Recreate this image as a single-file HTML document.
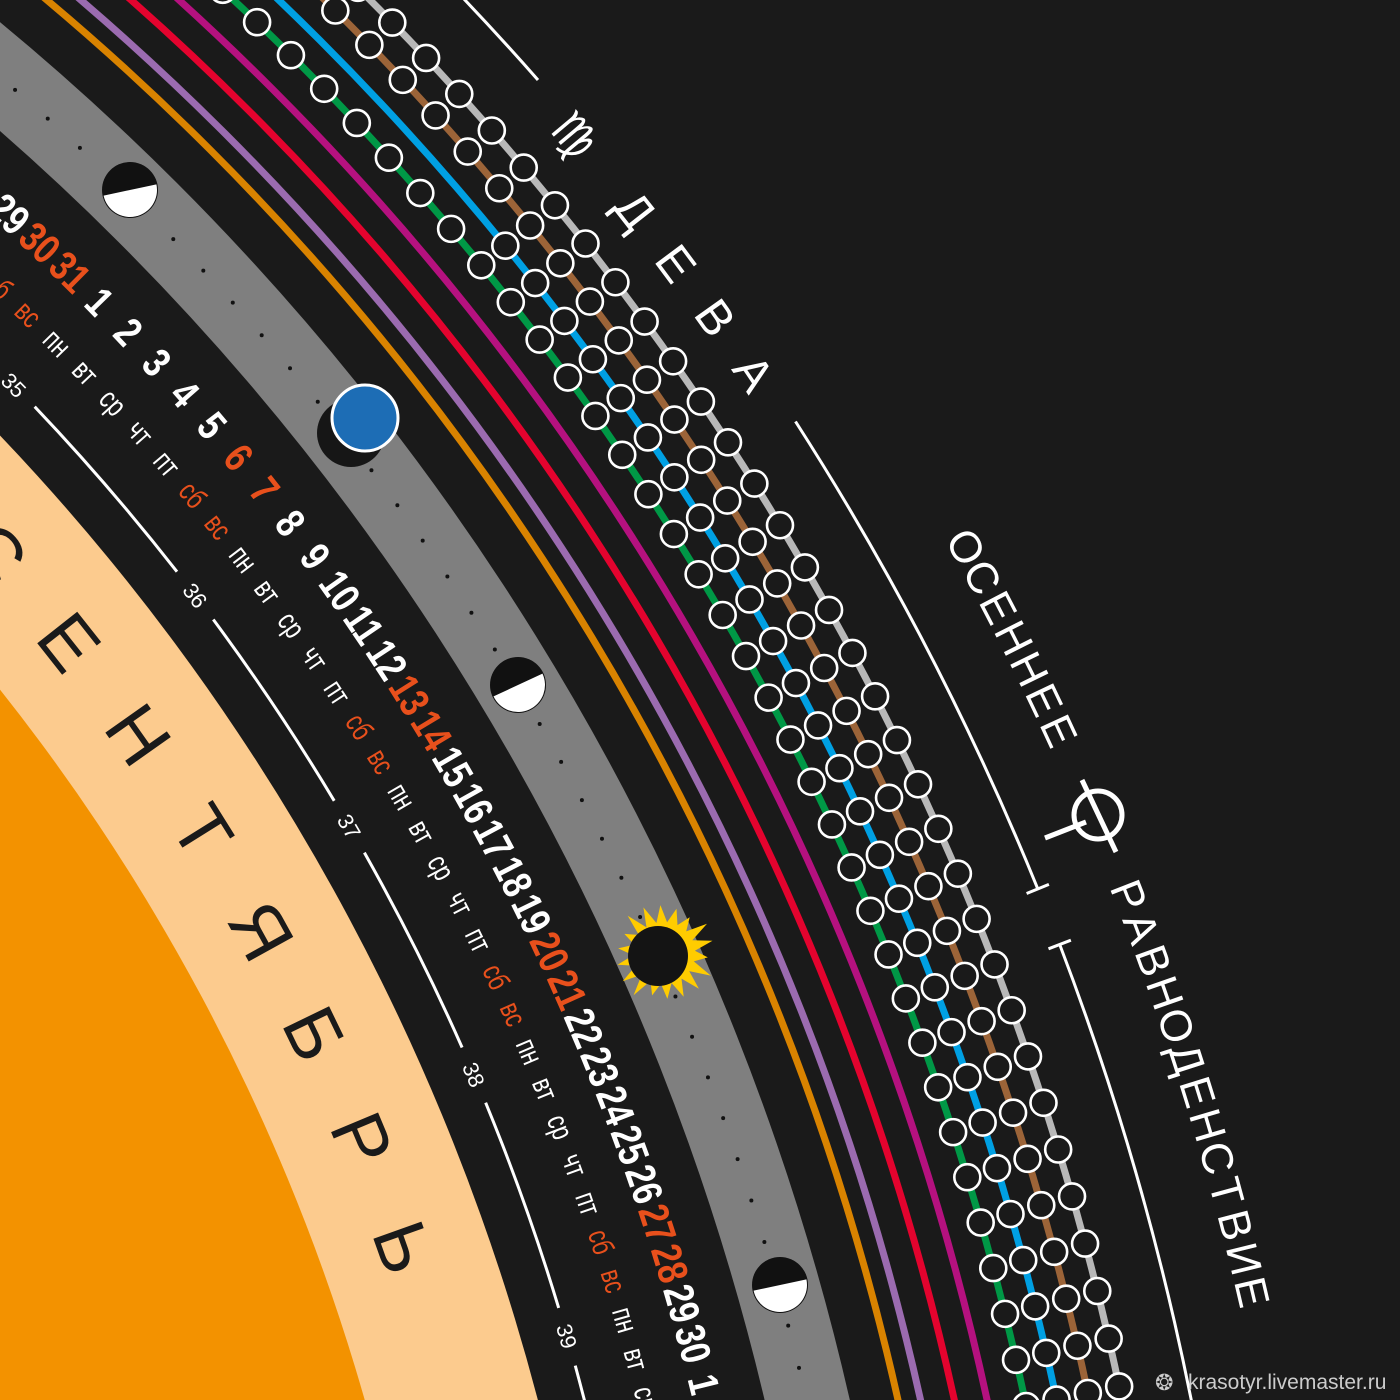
<!DOCTYPE html>
<html><head><meta charset="utf-8"><style>
html,body{margin:0;padding:0;background:#1a1a1a;width:1400px;height:1400px;overflow:hidden;}
svg{display:block;}
.n{font-family:"Liberation Sans",sans-serif;font-weight:bold;font-size:42px;fill:#fff;text-anchor:middle;}
.w{font-family:"Liberation Sans",sans-serif;font-size:30px;fill:#fff;text-anchor:middle;}
.r{fill:#e8501c;}
.k{font-family:"Liberation Sans",sans-serif;font-size:22px;fill:#fff;text-anchor:middle;}
.m{font-family:"Liberation Sans",sans-serif;font-size:74px;fill:#1a1a1a;text-anchor:middle;}
.z{font-family:"Liberation Sans","DejaVu Sans",sans-serif;font-size:48px;fill:#fff;text-anchor:middle;}
.o{font-family:"Liberation Sans",sans-serif;font-size:44px;fill:#fff;text-anchor:middle;}
</style></head><body>
<svg id="s" width="1400" height="1400" viewBox="0 0 1400 1400" xmlns="http://www.w3.org/2000/svg">
<rect width="1400" height="1400" fill="#1a1a1a"/>
<circle cx="-1600" cy="1960" r="2210" fill="#fccb8e"/>
<circle cx="-1600" cy="1960" r="2043" fill="#f39200"/>
<circle cx="-1600" cy="1960" r="2471.5" fill="none" stroke="#7f7f7f" stroke-width="83"/>
<circle cx="-1600" cy="1960" r="2471" fill="none" stroke="#111" stroke-width="4" stroke-linecap="round" stroke-dasharray="0 43.52"/>
<circle cx="-1600" cy="1960" r="2560" fill="none" stroke="#d98300" stroke-width="7"/>
<circle cx="-1600" cy="1960" r="2582" fill="none" stroke="#9b6bb0" stroke-width="7"/>
<circle cx="-1600" cy="1960" r="2615" fill="none" stroke="#e4032e" stroke-width="7"/>
<circle cx="-1600" cy="1960" r="2647" fill="none" stroke="#b5117f" stroke-width="7"/>
<circle cx="-1600" cy="1960" r="2684" fill="none" stroke="#009846" stroke-width="7"/>
<circle cx="-1600" cy="1960" r="2715" fill="none" stroke="#00a0e3" stroke-width="7"/>
<circle cx="-1600" cy="1960" r="2747" fill="none" stroke="#9c6438" stroke-width="7"/>
<circle cx="-1600" cy="1960" r="2779" fill="none" stroke="#b8b8b8" stroke-width="7"/>
<g id="dots"></g>
<path d="M-150.5,232.6 A2255,2255 0 0 1 655,1960" fill="none" stroke="#fff" stroke-width="3" stroke-dasharray="218 60" stroke-dashoffset="23.7"/>
<g fill="none" stroke="#fff" stroke-width="3">
<path d="M230,-221 A2847,2847 0 0 1 538,80"/>
<path d="M795.5,421.5 A2847,2847 0 0 1 1037.8,888.9"/>
<path d="M1059.7,944.5 A2847,2847 0 0 1 1236,1712"/>
<line x1="1026.6" y1="893.5" x2="1048.9" y2="884.4"/>
<line x1="1048.5" y1="948.8" x2="1070.9" y2="940.2"/>
</g>
<g fill="none" stroke="#fff" stroke-width="5">
<circle cx="1098" cy="815" r="24"/>
<line x1="1082" y1="780" x2="1116" y2="852"/>
<line x1="1045" y1="838" x2="1086" y2="822"/>
</g>
<g>
<circle cx="130" cy="190" r="28" fill="#111"/>
<path d="M103,190 A27,27 0 0 0 157,190 Z" fill="#fff" transform="rotate(-12 130 190)"/>
<circle cx="518" cy="685" r="28" fill="#111"/>
<path d="M491,685 A27,27 0 0 0 545,685 Z" fill="#fff" transform="rotate(-25 518 685)"/>
<circle cx="780" cy="1285" r="28" fill="#111"/>
<path d="M753,1285 A27,27 0 0 0 807,1285 Z" fill="#fff" transform="rotate(-12 780 1285)"/>
<circle cx="351" cy="433" r="34" fill="#161616"/>
<circle cx="365" cy="418" r="33" fill="#1d6db5" stroke="#fff" stroke-width="3"/>
<g id="sun"></g>
<circle cx="658" cy="956" r="30" fill="#141414"/>
</g>
<g transform="translate(-1600 1960)">
<text class="n" transform="rotate(41.66) translate(0,-2360) scale(0.8,1)">28</text>
<text class="n" transform="rotate(42.67) translate(0,-2360) scale(0.8,1)">29</text>
<text class="n r" transform="rotate(43.68) translate(0,-2360) scale(0.8,1)">30</text>
<text class="n r" transform="rotate(44.69) translate(0,-2360) scale(0.8,1)">31</text>
<text class="n" transform="rotate(45.70) translate(0,-2360) scale(0.8,1)">1</text>
<text class="n" transform="rotate(46.71) translate(0,-2360) scale(0.8,1)">2</text>
<text class="n" transform="rotate(47.72) translate(0,-2360) scale(0.8,1)">3</text>
<text class="n" transform="rotate(48.73) translate(0,-2360) scale(0.8,1)">4</text>
<text class="n" transform="rotate(49.74) translate(0,-2360) scale(0.8,1)">5</text>
<text class="n r" transform="rotate(50.74) translate(0,-2360) scale(0.8,1)">6</text>
<text class="n r" transform="rotate(51.75) translate(0,-2360) scale(0.8,1)">7</text>
<text class="n" transform="rotate(52.76) translate(0,-2360) scale(0.8,1)">8</text>
<text class="n" transform="rotate(53.77) translate(0,-2360) scale(0.8,1)">9</text>
<text class="n" transform="rotate(54.78) translate(0,-2360) scale(0.8,1)">10</text>
<text class="n" transform="rotate(55.79) translate(0,-2360) scale(0.8,1)">11</text>
<text class="n" transform="rotate(56.80) translate(0,-2360) scale(0.8,1)">12</text>
<text class="n r" transform="rotate(57.81) translate(0,-2360) scale(0.8,1)">13</text>
<text class="n r" transform="rotate(58.82) translate(0,-2360) scale(0.8,1)">14</text>
<text class="n" transform="rotate(59.83) translate(0,-2360) scale(0.8,1)">15</text>
<text class="n" transform="rotate(60.84) translate(0,-2360) scale(0.8,1)">16</text>
<text class="n" transform="rotate(61.84) translate(0,-2360) scale(0.8,1)">17</text>
<text class="n" transform="rotate(62.85) translate(0,-2360) scale(0.8,1)">18</text>
<text class="n" transform="rotate(63.86) translate(0,-2360) scale(0.8,1)">19</text>
<text class="n r" transform="rotate(64.87) translate(0,-2360) scale(0.8,1)">20</text>
<text class="n r" transform="rotate(65.88) translate(0,-2360) scale(0.8,1)">21</text>
<text class="n" transform="rotate(66.89) translate(0,-2360) scale(0.8,1)">22</text>
<text class="n" transform="rotate(67.90) translate(0,-2360) scale(0.8,1)">23</text>
<text class="n" transform="rotate(68.91) translate(0,-2360) scale(0.8,1)">24</text>
<text class="n" transform="rotate(69.92) translate(0,-2360) scale(0.8,1)">25</text>
<text class="n" transform="rotate(70.93) translate(0,-2360) scale(0.8,1)">26</text>
<text class="n r" transform="rotate(71.93) translate(0,-2360) scale(0.8,1)">27</text>
<text class="n r" transform="rotate(72.94) translate(0,-2360) scale(0.8,1)">28</text>
<text class="n" transform="rotate(73.95) translate(0,-2360) scale(0.8,1)">29</text>
<text class="n" transform="rotate(74.96) translate(0,-2360) scale(0.8,1)">30</text>
<text class="n" transform="rotate(75.97) translate(0,-2360) scale(0.8,1)">1</text>
<text class="n" transform="rotate(76.98) translate(0,-2360) scale(0.8,1)">2</text>
<text class="w" transform="rotate(41.66) translate(0,-2305) scale(0.75,1)">чт</text>
<text class="w" transform="rotate(42.67) translate(0,-2305) scale(0.75,1)">пт</text>
<text class="w r" transform="rotate(43.68) translate(0,-2305) scale(0.75,1)">сб</text>
<text class="w r" transform="rotate(44.69) translate(0,-2305) scale(0.75,1)">вс</text>
<text class="w" transform="rotate(45.70) translate(0,-2305) scale(0.75,1)">пн</text>
<text class="w" transform="rotate(46.71) translate(0,-2305) scale(0.75,1)">вт</text>
<text class="w" transform="rotate(47.72) translate(0,-2305) scale(0.75,1)">ср</text>
<text class="w" transform="rotate(48.73) translate(0,-2305) scale(0.75,1)">чт</text>
<text class="w" transform="rotate(49.74) translate(0,-2305) scale(0.75,1)">пт</text>
<text class="w r" transform="rotate(50.74) translate(0,-2305) scale(0.75,1)">сб</text>
<text class="w r" transform="rotate(51.75) translate(0,-2305) scale(0.75,1)">вс</text>
<text class="w" transform="rotate(52.76) translate(0,-2305) scale(0.75,1)">пн</text>
<text class="w" transform="rotate(53.77) translate(0,-2305) scale(0.75,1)">вт</text>
<text class="w" transform="rotate(54.78) translate(0,-2305) scale(0.75,1)">ср</text>
<text class="w" transform="rotate(55.79) translate(0,-2305) scale(0.75,1)">чт</text>
<text class="w" transform="rotate(56.80) translate(0,-2305) scale(0.75,1)">пт</text>
<text class="w r" transform="rotate(57.81) translate(0,-2305) scale(0.75,1)">сб</text>
<text class="w r" transform="rotate(58.82) translate(0,-2305) scale(0.75,1)">вс</text>
<text class="w" transform="rotate(59.83) translate(0,-2305) scale(0.75,1)">пн</text>
<text class="w" transform="rotate(60.84) translate(0,-2305) scale(0.75,1)">вт</text>
<text class="w" transform="rotate(61.84) translate(0,-2305) scale(0.75,1)">ср</text>
<text class="w" transform="rotate(62.85) translate(0,-2305) scale(0.75,1)">чт</text>
<text class="w" transform="rotate(63.86) translate(0,-2305) scale(0.75,1)">пт</text>
<text class="w r" transform="rotate(64.87) translate(0,-2305) scale(0.75,1)">сб</text>
<text class="w r" transform="rotate(65.88) translate(0,-2305) scale(0.75,1)">вс</text>
<text class="w" transform="rotate(66.89) translate(0,-2305) scale(0.75,1)">пн</text>
<text class="w" transform="rotate(67.90) translate(0,-2305) scale(0.75,1)">вт</text>
<text class="w" transform="rotate(68.91) translate(0,-2305) scale(0.75,1)">ср</text>
<text class="w" transform="rotate(69.92) translate(0,-2305) scale(0.75,1)">чт</text>
<text class="w" transform="rotate(70.93) translate(0,-2305) scale(0.75,1)">пт</text>
<text class="w r" transform="rotate(71.93) translate(0,-2305) scale(0.75,1)">сб</text>
<text class="w r" transform="rotate(72.94) translate(0,-2305) scale(0.75,1)">вс</text>
<text class="w" transform="rotate(73.95) translate(0,-2305) scale(0.75,1)">пн</text>
<text class="w" transform="rotate(74.96) translate(0,-2305) scale(0.75,1)">вт</text>
<text class="w" transform="rotate(75.97) translate(0,-2305) scale(0.75,1)">ср</text>
<text class="w" transform="rotate(76.98) translate(0,-2305) scale(0.75,1)">чт</text>
<text class="k" transform="rotate(45.70) translate(0,-2247)">35</text>
<text class="k" transform="rotate(52.76) translate(0,-2247)">36</text>
<text class="k" transform="rotate(59.82) translate(0,-2247)">37</text>
<text class="k" transform="rotate(66.88) translate(0,-2247)">38</text>
<text class="k" transform="rotate(73.94) translate(0,-2247)">39</text>
<text class="m" transform="rotate(48.58) translate(0,-2101)">С</text>
<text class="m" transform="rotate(51.70) translate(0,-2101)">Е</text>
<text class="m" transform="rotate(54.82) translate(0,-2101)">Н</text>
<text class="m" transform="rotate(57.94) translate(0,-2101)">Т</text>
<text class="m" transform="rotate(61.06) translate(0,-2101)">Я</text>
<text class="m" transform="rotate(64.18) translate(0,-2101)">Б</text>
<text class="m" transform="rotate(67.30) translate(0,-2101)">Р</text>
<text class="m" transform="rotate(70.42) translate(0,-2101)">Ь</text>
<text class="z" transform="rotate(49.99) translate(0,-2822)">♍</text>
<text class="z" transform="rotate(51.94) translate(0,-2822)">Д</text>
<text class="z" transform="rotate(53.30) translate(0,-2822)">Е</text>
<text class="z" transform="rotate(54.65) translate(0,-2822)">В</text>
<text class="z" transform="rotate(56.01) translate(0,-2822)">А</text>
<text class="o" transform="rotate(61.16) translate(0,-2914)">О</text>
<text class="o" transform="rotate(61.83) translate(0,-2914)">С</text>
<text class="o" transform="rotate(62.50) translate(0,-2914)">Е</text>
<text class="o" transform="rotate(63.17) translate(0,-2914)">Н</text>
<text class="o" transform="rotate(63.85) translate(0,-2914)">Н</text>
<text class="o" transform="rotate(64.52) translate(0,-2914)">Е</text>
<text class="o" transform="rotate(65.19) translate(0,-2914)">Е</text>
<text class="o" transform="rotate(68.69) translate(0,-2914)">Р</text>
<text class="o" transform="rotate(69.37) translate(0,-2914)">А</text>
<text class="o" transform="rotate(70.05) translate(0,-2914)">В</text>
<text class="o" transform="rotate(70.72) translate(0,-2914)">Н</text>
<text class="o" transform="rotate(71.40) translate(0,-2914)">О</text>
<text class="o" transform="rotate(72.08) translate(0,-2914)">Д</text>
<text class="o" transform="rotate(72.76) translate(0,-2914)">Е</text>
<text class="o" transform="rotate(73.44) translate(0,-2914)">Н</text>
<text class="o" transform="rotate(74.11) translate(0,-2914)">С</text>
<text class="o" transform="rotate(74.79) translate(0,-2914)">Т</text>
<text class="o" transform="rotate(75.47) translate(0,-2914)">В</text>
<text class="o" transform="rotate(76.15) translate(0,-2914)">И</text>
<text class="o" transform="rotate(76.82) translate(0,-2914)">Е</text>
</g>
<text x="1155" y="1390" font-family="DejaVu Sans,sans-serif" font-size="22" fill="#ccc">❂</text>
<text x="1188" y="1389" font-family="Liberation Sans,sans-serif" font-size="21" fill="#ccc">krasotyr.livemaster.ru</text>
</svg>
<script>
(function(){
var NS="http://www.w3.org/2000/svg",cx=-1600,cy=1960;
var g=document.getElementById("dots");
var tr=[2684,2715,2747,2779];
for(var t=0;t<4;t++){
 for(var k=-12;k<46;k++){
  var th=44.2-k*1.009;
  if(t==1&&th>39.5)continue;
  var a=th*Math.PI/180;
  var c=document.createElementNS(NS,"circle");
  c.setAttribute("cx",cx+tr[t]*Math.cos(a));
  c.setAttribute("cy",cy-tr[t]*Math.sin(a));
  c.setAttribute("r",13);
  c.setAttribute("fill","#1a1a1a");
  c.setAttribute("stroke","#fff");
  c.setAttribute("stroke-width","2.6");
  g.appendChild(c);
 }
}
var s=document.getElementById("sun"),pts=[],N=18;
for(var i=0;i<N*2;i++){
 var r=(i%2==0)?(44+((i*7)%5)*2):31,an=i*Math.PI/N+0.1;
 pts.push((664+r*Math.cos(an)).toFixed(1)+","+(953+r*Math.sin(an)).toFixed(1));
}
var p=document.createElementNS(NS,"polygon");
p.setAttribute("points",pts.join(" "));p.setAttribute("fill","#ffcc00");
s.appendChild(p);
})();
</script>
</body></html>
